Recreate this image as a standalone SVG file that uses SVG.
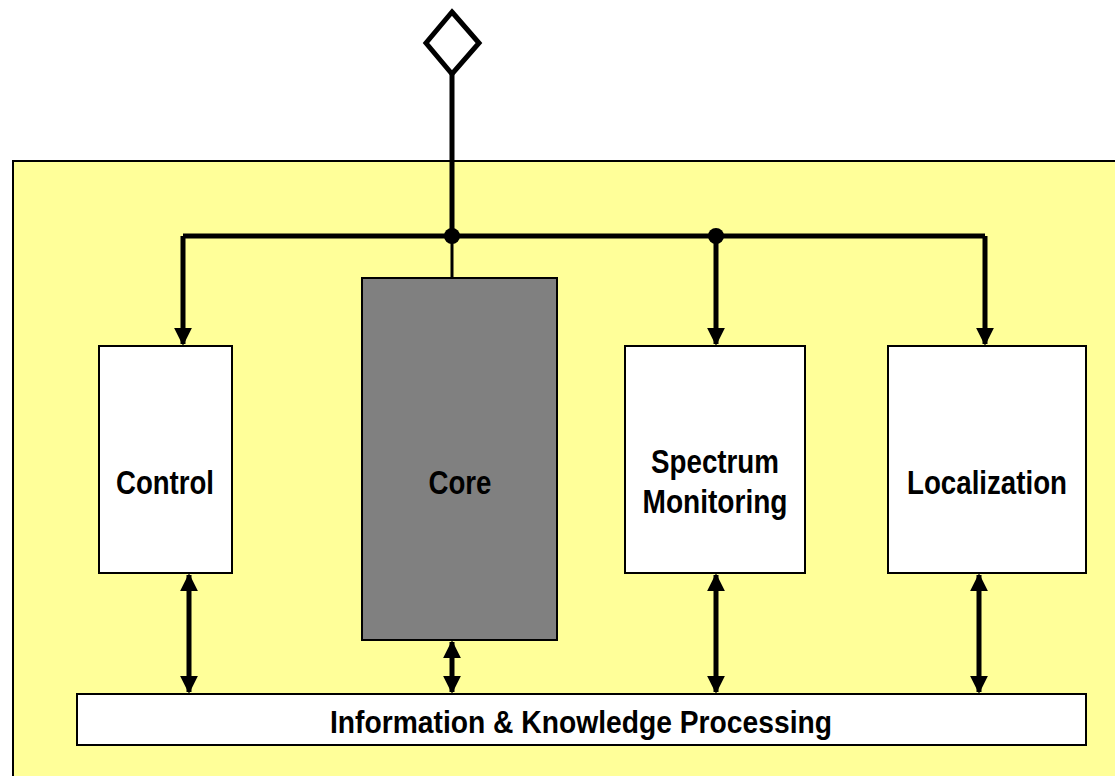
<svg xmlns="http://www.w3.org/2000/svg" width="1115" height="776" viewBox="0 0 1115 776">
<style>
.box{fill:#fff;stroke:#000;stroke-width:2}
.lbl{font-family:"Liberation Sans",Arial,sans-serif;font-weight:bold;font-size:33px;fill:#000;text-anchor:middle}
.bus{fill:none;stroke:#000;stroke-width:5;stroke-linejoin:round}
.dbl{stroke:#000;stroke-width:5}
</style>
<defs>
<marker id="ah" viewBox="0 0 10 10" refX="9" refY="5" markerWidth="3.6" markerHeight="3.6" markerUnits="strokeWidth" orient="auto-start-reverse">
<path d="M0,0 L10,5 L0,10 Z" fill="#000"/>
</marker>
</defs>
<rect x="0" y="0" width="1115" height="776" fill="#fff"/>
<g id="frame">
<rect x="13" y="161" width="1110" height="630" fill="#FFFF99" stroke="#000" stroke-width="2"/>
</g>
<g id="connectors">
<line x1="452" y1="73" x2="452" y2="236" class="dbl"/>
<line x1="452" y1="236" x2="452" y2="278" stroke="#000" stroke-width="3"/>
<path d="M183,236 L985,236" class="bus"/>
<path d="M183,236 L183,344" class="bus" marker-end="url(#ah)"/>
<path d="M716,236 L716,344" class="bus" marker-end="url(#ah)"/>
<path d="M985,236 L985,344" class="bus" marker-end="url(#ah)"/>
<circle cx="452" cy="236" r="8" fill="#000"/>
<circle cx="716" cy="236" r="8" fill="#000"/>
<line x1="189" y1="575" x2="189" y2="692" class="dbl" marker-start="url(#ah)" marker-end="url(#ah)"/>
<line x1="452" y1="642" x2="452" y2="692" class="dbl" marker-start="url(#ah)" marker-end="url(#ah)"/>
<line x1="716" y1="575" x2="716" y2="692" class="dbl" marker-start="url(#ah)" marker-end="url(#ah)"/>
<line x1="979" y1="575" x2="979" y2="692" class="dbl" marker-start="url(#ah)" marker-end="url(#ah)"/>
</g>
<g id="port">
<polygon points="452,12 479,43 452,74 426,43" fill="#fff" stroke="#000" stroke-width="5"/>
</g>
<g id="control">
<rect x="99" y="346" width="133" height="227" class="box"/>
<text x="165" y="494" class="lbl" textLength="98" lengthAdjust="spacingAndGlyphs">Control</text>
</g>
<g id="core">
<rect x="362" y="278" width="195" height="362" fill="#808080" stroke="#000" stroke-width="2"/>
<text x="460" y="494" class="lbl" textLength="63" lengthAdjust="spacingAndGlyphs">Core</text>
</g>
<g id="spectrum">
<rect x="625" y="346" width="180" height="227" class="box"/>
<text x="715" y="473" class="lbl" textLength="128" lengthAdjust="spacingAndGlyphs">Spectrum</text>
<text x="715" y="513" class="lbl" textLength="145" lengthAdjust="spacingAndGlyphs">Monitoring</text>
</g>
<g id="localization">
<rect x="888" y="346" width="198" height="227" class="box"/>
<text x="987" y="494" class="lbl" textLength="160" lengthAdjust="spacingAndGlyphs">Localization</text>
</g>
<g id="info">
<rect x="77" y="694" width="1009" height="51" class="box"/>
<text x="581" y="733" class="lbl" style="font-size:32px" textLength="502" lengthAdjust="spacingAndGlyphs">Information &amp; Knowledge Processing</text>
</g>
</svg>
